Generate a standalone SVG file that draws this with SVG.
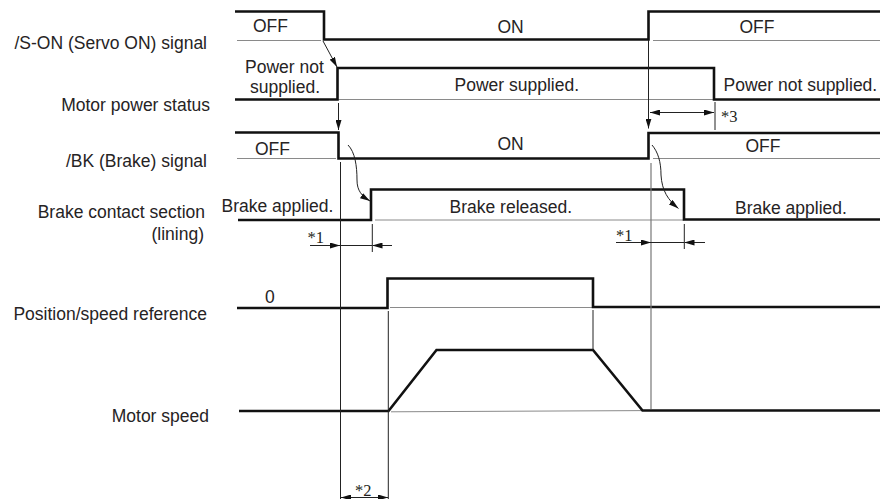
<svg xmlns="http://www.w3.org/2000/svg" width="882" height="499" viewBox="0 0 882 499">
<style>
.lbl{font-family:"Liberation Sans",Arial,sans-serif;font-size:17.5px;fill:#262324}
.end{text-anchor:end}
.note{font-family:"Liberation Serif","Times New Roman",serif;font-size:16.5px;fill:#231f20}
.sig{fill:none;stroke:#111;stroke-width:2.6;stroke-linejoin:miter}
.base{fill:none;stroke:#8a8a8a;stroke-width:1}
.guide{fill:none;stroke:#222;stroke-width:1}
.guideg{fill:none;stroke:#777;stroke-width:1.2}
.arr{fill:none;stroke:#222;stroke-width:1}
</style>
<defs>
<marker id="ah" viewBox="0 0 10 6" refX="10" refY="3" markerWidth="10" markerHeight="6" markerUnits="userSpaceOnUse" orient="auto-start-reverse">
<path d="M0,0 L10,3 L0,6 z" fill="#111"/>
</marker>
</defs>
<rect width="882" height="499" fill="#fff"/>

<g id="labels">
<text class="lbl end" x="207" y="48.5">/S-ON (Servo ON) signal</text>
<text class="lbl end" x="210" y="110.5">Motor power status</text>
<text class="lbl end" x="207" y="167">/BK (Brake) signal</text>
<text class="lbl end" x="205" y="217.5">Brake contact section</text>
<text class="lbl end" x="204" y="239.5">(lining)</text>
<text class="lbl end" x="207" y="319.5">Position/speed reference</text>
<text class="lbl end" x="209" y="421.5">Motor speed</text>
</g>

<g id="sig-son">
<path class="base" d="M237,40.5 H321 M653,40.5 H880"/>
<path class="sig" d="M235,11.5 H324 V39.5 H648.5 V11.5 H880"/>
<text class="lbl" x="253" y="32">OFF</text>
<text class="lbl" x="497.5" y="33">ON</text>
<text class="lbl" x="739.5" y="33">OFF</text>
</g>

<g id="sig-power">
<path class="base" d="M338,99.5 H714"/>
<path class="sig" d="M235,99.5 H337.5 V68 H714 V99.5 H880"/>
<text class="lbl" x="245" y="73">Power not</text>
<text class="lbl" x="250" y="93">supplied.</text>
<text class="lbl" x="454.5" y="91">Power supplied.</text>
<text class="lbl" x="723.5" y="91">Power not supplied.</text>
</g>

<g id="sig-bk">
<path class="base" d="M237,158.5 H336 M653,158.5 H880"/>
<path class="sig" d="M235,132.5 H338.5 V158.5 H648.5 V133 H880"/>
<text class="lbl" x="255" y="155">OFF</text>
<text class="lbl" x="497.5" y="150">ON</text>
<text class="lbl" x="745.5" y="152">OFF</text>
</g>

<g id="sig-brake">
<path class="base" d="M375,220 H684"/>
<path class="sig" d="M238,220 H371 V189.5 H684 V219.5 H880"/>
<text class="lbl" x="221.5" y="212">Brake applied.</text>
<text class="lbl" x="449.5" y="213">Brake released.</text>
<text class="lbl" x="735" y="213.5">Brake applied.</text>
</g>

<g id="sig-ref">
<path class="base" d="M390,307.5 H593"/>
<path class="sig" d="M237,308 H387.5 V278.5 H593 V307 H880"/>
<text class="lbl" x="265" y="302.5">0</text>
</g>

<g id="sig-speed">
<path class="base" d="M391,411.8 L642,410.6"/>
<path class="sig" d="M239,411 H388.5 L436.5,350 H593 L642.5,410.5 H880"/>
</g>

<g id="connectors">
<path class="guide" d="M340.5,162 V499"/>
<path class="guide" d="M388.3,311 V499"/>
<path class="guideg" d="M651,163 V409"/>
<path class="guide" d="M593,310 V350"/>
<path class="guide" d="M372.3,224 V252"/>
<path class="guide" d="M684.3,224 V249"/>
<path class="guide" d="M715,102 V130"/>

<path class="arr" d="M323,41 L337,67" marker-end="url(#ah)"/>
<path class="arr" d="M338.5,103 V130" marker-end="url(#ah)"/>
<path class="arr" d="M648.5,40 V128.5" marker-end="url(#ah)"/>
<path class="arr" d="M348,145 C355,152 357,166 357,180 C357,191 362,196 370,201" marker-end="url(#ah)"/>
<path class="arr" d="M652,145 C658,152 661,162 661,175 C662,191 668,200 678.5,208.5" marker-end="url(#ah)"/>

<path class="arr" d="M310,245.5 H340" marker-end="url(#ah)"/>
<path class="arr" d="M340,245.5 H372"/>
<path class="arr" d="M392,245.5 H372.5" marker-end="url(#ah)"/>
<text class="note" x="307.5" y="243">*1</text>

<path class="arr" d="M616,242.5 H651" marker-end="url(#ah)"/>
<path class="arr" d="M651,242.5 H684"/>
<path class="arr" d="M705,242.5 H684.5" marker-end="url(#ah)"/>
<text class="note" x="616" y="240.5">*1</text>

<path class="arr" d="M650,112.5 H714" marker-start="url(#ah)" marker-end="url(#ah)"/>
<text class="note" x="721" y="122">*3</text>

<path class="arr" d="M341,497.5 H388" marker-start="url(#ah)" marker-end="url(#ah)"/>
<text class="note" x="355" y="495.5">*2</text>
</g>
</svg>
